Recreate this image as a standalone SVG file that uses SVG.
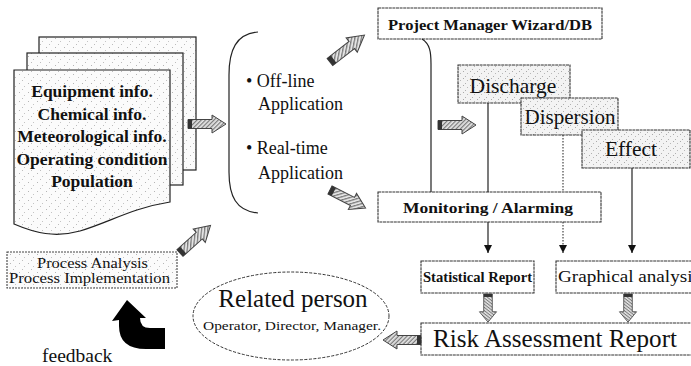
<svg xmlns="http://www.w3.org/2000/svg" width="691" height="366" viewBox="0 0 691 366" font-family="'Liberation Serif', 'DejaVu Serif', serif">
<style>
.t{font-family:'Liberation Serif','DejaVu Serif',serif;fill:#111}
.b{font-weight:bold}
.page{fill:url(#speck);stroke:#222;stroke-width:1.2}
.gbox{fill:url(#speck2);stroke:#333;stroke-width:1.1;stroke-dasharray:3 0.6}
.wbox{fill:#fff;stroke:#333;stroke-width:1.1;stroke-dasharray:3 0.6}
.ln{fill:none;stroke:#222;stroke-width:1.2}
.dot{fill:none;stroke:#333;stroke-width:1.1;stroke-dasharray:1.5 1.5}
.ha{fill:url(#hatch);stroke:#444;stroke-width:1}
</style>
<defs>
<pattern id="speck" width="9" height="9" patternUnits="userSpaceOnUse">
<rect width="9" height="9" fill="#fbfbfb"/>
<rect x="1" y="2" width="1" height="1" fill="#b5b5b5"/>
<rect x="6" y="5" width="1" height="1" fill="#c4c4c4"/>
<rect x="4" y="8" width="1" height="1" fill="#bdbdbd"/>
</pattern>
<pattern id="speck2" width="7" height="7" patternUnits="userSpaceOnUse">
<rect width="7" height="7" fill="#f3f3f3"/>
<rect x="1" y="1" width="1" height="1" fill="#aaa"/>
<rect x="5" y="3" width="1" height="1" fill="#b8b8b8"/>
<rect x="3" y="6" width="1" height="1" fill="#b0b0b0"/>
</pattern>
<pattern id="hatch" width="3" height="3" patternUnits="userSpaceOnUse" patternTransform="rotate(45)">
<rect width="3" height="3" fill="#e4e4e4"/>
<rect width="1.2" height="3" fill="#7a7a7a"/>
</pattern>
<g id="harrow">
<path class="ha" d="M0,-4.5 H24 V-9 L38,0 L24,9 V4.5 H0 Z"/>
<rect x="0" y="-4.5" width="4" height="9" fill="#333"/>
</g>
<marker id="tri" viewBox="0 0 10 10" refX="10" refY="5" markerWidth="8" markerHeight="8" markerUnits="userSpaceOnUse" orient="auto">
<path d="M0,0 L10,5 L0,10 z" fill="#111"/>
</marker>
</defs>
<rect width="691" height="366" fill="#fff"/>

<g id="documents">
<rect class="page" x="39" y="37" width="157" height="133"/>
<rect class="page" x="27" y="53" width="156" height="132"/>
<path class="page" d="M14,70 H170 V202 C132,208 110,222 80,231 C55,238 35,233 14,224 Z"/>
<g class="t b" font-size="17.5" text-anchor="middle">
<text x="92" y="97">Equipment info.</text>
<text x="92" y="120">Chemical info.</text>
<text x="92" y="142">Meteorological info.</text>
<text x="92" y="165">Operating condition</text>
<text x="92" y="187">Population</text>
</g>
</g>

<g id="applications">
<path class="ln" stroke-width="1.5" d="M258,32 C236,34 229,50 229,75 L229,172 C229,196 236,211 258,213"/>
<g class="t" font-size="18">
<text x="246" y="87">• Off-line</text>
<text x="258" y="110">Application</text>
<text x="246" y="154">• Real-time</text>
<text x="258" y="179">Application</text>
</g>
</g>

<g id="pm">
<rect class="wbox" x="378" y="8" width="224" height="31"/>
<text class="t b" x="388" y="30" font-size="15" textLength="204" lengthAdjust="spacingAndGlyphs">Project Manager Wizard/DB</text>
</g>

<g id="discharge">
<rect class="gbox" x="458" y="65" width="112" height="38"/>
<text class="t" x="513" y="93" font-size="21.5" text-anchor="middle">Discharge</text>
</g>
<g id="dispersion">
<rect class="gbox" x="521" y="98" width="97" height="37"/>
<text class="t" x="570" y="124" font-size="21" text-anchor="middle">Dispersion</text>
</g>
<g id="effect">
<rect class="gbox" x="582" y="130" width="108" height="38"/>
<text class="t" x="631" y="156" font-size="21.5" text-anchor="middle">Effect</text>
</g>

<g id="monitoring">
<rect class="wbox" x="378" y="192" width="223" height="30"/>
<text class="t b" x="403" y="213" font-size="15" textLength="170" lengthAdjust="spacingAndGlyphs">Monitoring / Alarming</text>
</g>

<g id="statistical">
<rect class="wbox" x="421" y="261" width="113" height="32"/>
<text class="t b" x="423" y="282" font-size="14" textLength="109" lengthAdjust="spacingAndGlyphs">Statistical Report</text>
</g>
<g id="graphical">
<rect class="wbox" x="556" y="261" width="140" height="32"/>
<text class="t" x="558" y="282" font-size="17" textLength="142" lengthAdjust="spacingAndGlyphs">Graphical  analysis</text>
</g>

<g id="risk">
<rect class="wbox" x="421" y="323" width="275" height="32"/>
<text class="t" x="433" y="347" font-size="25" textLength="244" lengthAdjust="spacingAndGlyphs">Risk Assessment Report</text>
</g>

<g id="related">
<ellipse cx="291" cy="316" rx="98" ry="44" fill="#fff" stroke="#333" stroke-width="1" stroke-dasharray="3 1.5"/>
<text class="t" x="293" y="307" font-size="25" text-anchor="middle">Related person</text>
<text class="t" x="203" y="330" font-size="12" textLength="178" lengthAdjust="spacingAndGlyphs">Operator, Director, Manager.</text>
</g>

<g id="process">
<rect x="7" y="252" width="170" height="36" fill="url(#speck)" stroke="#444" stroke-width="1.1" stroke-dasharray="2 1"/>
<text class="t" x="37" y="268" font-size="15" textLength="111" lengthAdjust="spacingAndGlyphs">Process Analysis</text>
<text class="t" x="9" y="283" font-size="15" textLength="161" lengthAdjust="spacingAndGlyphs">Process Implementation</text>
</g>

<g id="feedback">
<path d="M127,300 L146,318 L140,318 Q140,328 150,328 L165,328 L165,349 L146,349 Q119,349 119,326 L119,320 L112,321 Z" fill="#000"/>
<text class="t" x="42" y="362" font-size="19.5">feedback</text>
</g>

<g id="connectors">
<path class="ln" d="M422,39 C430,44 431,52 431,64 V192"/>
<line class="ln" x1="488" y1="103" x2="488" y2="192"/>
<line class="dot" x1="563" y1="135" x2="563" y2="192"/>
<line class="ln" x1="632" y1="168" x2="632" y2="253" marker-end="url(#tri)"/>
<line class="ln" x1="488" y1="222" x2="488" y2="253" marker-end="url(#tri)"/>
<line class="dot" x1="563" y1="222" x2="563" y2="253" marker-end="url(#tri)"/>
<use href="#harrow" transform="translate(188,124)"/>
<use href="#harrow" transform="translate(330,62) rotate(-38) scale(1.15,1)"/>
<use href="#harrow" transform="translate(330,190) rotate(27) scale(1.05,1)"/>
<use href="#harrow" transform="translate(438,125)"/>
<use href="#harrow" transform="translate(488,294) rotate(90) scale(0.74,0.95)"/>
<use href="#harrow" transform="translate(628,294) rotate(90) scale(0.74,0.95)"/>
<use href="#harrow" transform="translate(421,340) rotate(180)"/>
<use href="#harrow" transform="translate(180,253) rotate(-42) scale(1.08,1)"/>
</g>
</svg>
